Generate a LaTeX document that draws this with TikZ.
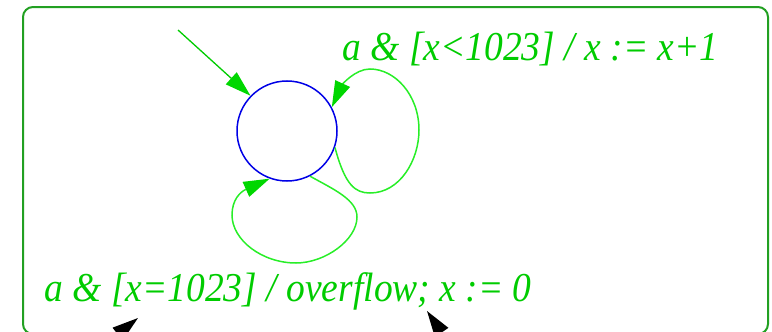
\documentclass[tikz,border=0pt]{standalone}
\usepackage{fontspec}
\setmainfont{Liberation Serif}
\usepackage{graphicx}
\usepackage{tikz}
\usetikzlibrary{arrows.meta,positioning}
\usepackage{xcolor}
\definecolor{lblgreen}{RGB}{0,204,0}
\definecolor{loopgreen}{RGB}{40,238,40}
\definecolor{tipgreen}{RGB}{0,215,0}
\definecolor{framegreen}{RGB}{34,160,34}
\definecolor{stateblue}{RGB}{0,0,230}
\newcommand{\guardtext}[1]{\scalebox{0.915}[1]{#1}}

\begin{document}
\begin{tikzpicture}[x=0.5pt, y=-0.5pt,
    gtip/.tip={Triangle[length=13pt, width=8pt, color=tipgreen]},
    state/.style={circle, draw=stateblue, line width=0.75pt, minimum size=50pt, inner sep=0pt},
    trans/.style={-gtip, draw=loopgreen, line width=0.75pt},
    guard/.style={text=lblgreen, font=\fontsize{20.5}{24}\selectfont\itshape, anchor=base west, inner sep=0pt}]
    \useasboundingbox (0,0) rectangle (772,332);
    \clip (0,0) rectangle (772,332);

    \draw[framegreen, line width=1pt, rounded corners=5pt] (23,7) rectangle (768,334);

    \node[state] (count) at (287,131) {};
    \coordinate (init) at (178,30);
    \node[guard] (inc) at (342,61) {\guardtext{a \& [x<1023] / x := x+1}};
    \node[guard] (ovf) at (44,301) {\guardtext{a \& [x=1023] / overflow; x := 0}};

    \draw[-gtip, draw=lblgreen, line width=0.65pt] (init) -- (count.136);
    \draw[trans] (count.-19) .. controls (345,185) and (355,193) .. (370,193)
        .. controls (400,193) and (419,160) .. (419,130)
        .. controls (419,95) and (395,69) .. (370,69)
        .. controls (355,69) and (342,85) .. (count.28);
    \draw[trans] (count.-63) .. controls (335,190) and (357,200) .. (357,217)
        .. controls (357,240) and (325,263) .. (296,263)
        .. controls (262,263) and (232,240) .. (232,215)
        .. controls (232,200) and (240,192) .. (count.-110);

    \coordinate (src1) at (95,352);
    \coordinate (dst1) at (138,318);
    \coordinate (src2) at (455,352);
    \coordinate (dst2) at (427,311);
    \draw[-{Triangle[length=13pt, width=8pt]}, line width=0.75pt] (src1) -- (dst1);
    \draw[-{Triangle[length=13pt, width=8pt]}, line width=0.75pt] (src2) -- (dst2);
\end{tikzpicture}
\end{document}
